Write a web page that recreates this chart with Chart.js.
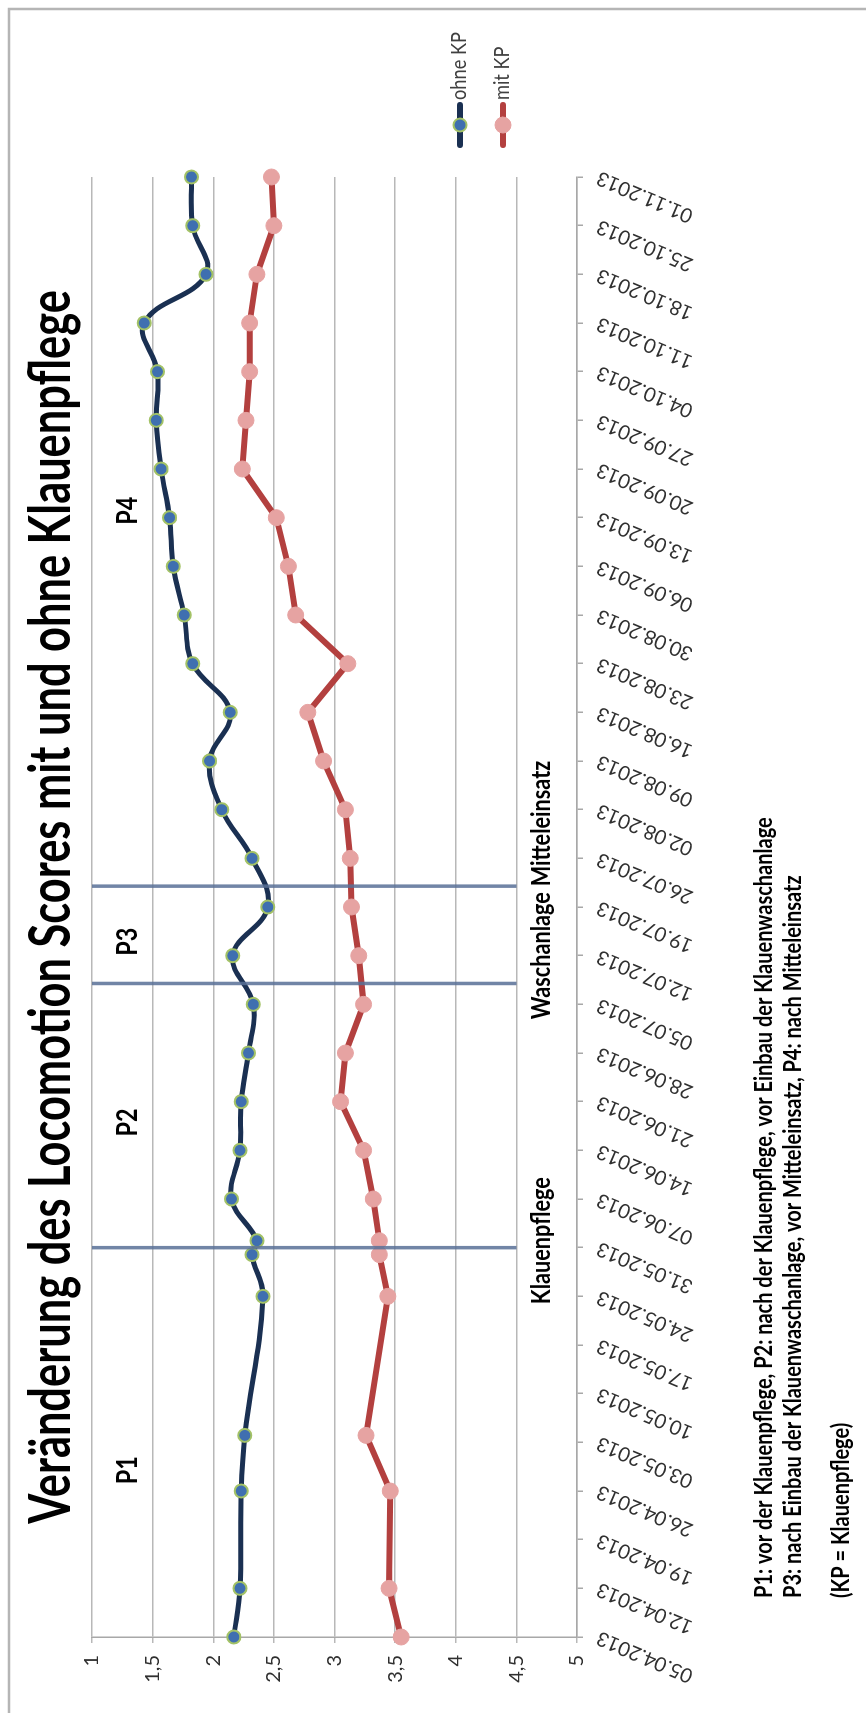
<!DOCTYPE html>
<html lang="de">

<head>
    <meta charset="UTF-8">
    <title>Locomotion Scores</title>
    <script src="https://cdn.jsdelivr.net/npm/chart.js"></script>
    <style>
        html, body { margin: 0; padding: 0; background: #fff; }
        body { width: 866px; height: 1713px; overflow: hidden; position: relative; }
        /* the chart is drawn landscape and turned a quarter to the left */
        #wrap {
            position: absolute; left: 0; top: 0;
            width: 1713px; height: 866px;
            transform-origin: 0 0;
            transform: translateY(1713px) rotate(-90deg);
        }
    </style>
</head>

<body>
    <div id="wrap"><canvas id="grafik" width="1713" height="866"></canvas></div>

<script>
    // Messtage und Scores
    const daten = ['05.04.2013', '12.04.2013', '26.04.2013', '04.05.2013', '24.05.2013', '30.05.2013',
        '01.06.2013', '07.06.2013', '14.06.2013', '21.06.2013', '28.06.2013', '05.07.2013', '12.07.2013',
        '19.07.2013', '26.07.2013', '02.08.2013', '09.08.2013', '16.08.2013', '23.08.2013', '30.08.2013',
        '06.09.2013', '13.09.2013', '20.09.2013', '27.09.2013', '04.10.2013', '11.10.2013', '18.10.2013',
        '25.10.2013', '01.11.2013'];
    const ohneKP = [2.17, 2.22, 2.23, 2.26, 2.41, 2.32, 2.36, 2.15, 2.22, 2.23, 2.29, 2.33, 2.16, 2.45, 2.32,
        2.07, 1.97, 2.14, 1.83, 1.76, 1.67, 1.64, 1.57, 1.53, 1.54, 1.43, 1.94, 1.83, 1.82];
    const mitKP = [3.55, 3.45, 3.46, 3.26, 3.44, 3.37, 3.37, 3.32, 3.24, 3.05, 3.09, 3.24, 3.20, 3.14, 3.13,
        3.09, 2.91, 2.78, 3.11, 2.68, 2.62, 2.52, 2.24, 2.27, 2.30, 2.30, 2.36, 2.50, 2.48];

    // Wochenachse
    const achsenDaten = ['05.04.2013', '12.04.2013', '19.04.2013', '26.04.2013', '03.05.2013', '10.05.2013',
        '17.05.2013', '24.05.2013', '31.05.2013', '07.06.2013', '14.06.2013', '21.06.2013', '28.06.2013',
        '05.07.2013', '12.07.2013', '19.07.2013', '26.07.2013', '02.08.2013', '09.08.2013', '16.08.2013',
        '23.08.2013', '30.08.2013', '06.09.2013', '13.09.2013', '20.09.2013', '27.09.2013', '04.10.2013',
        '11.10.2013', '18.10.2013', '25.10.2013', '01.11.2013'];
    const scoreTicks = [1, 1.5, 2, 2.5, 3, 3.5, 4, 4.5, 5];

    // Ereignisse (Linie) und ihre Beschriftung
    const ereignisse = ['Klauenpflege', 'Waschanlage', 'Mitteleinsatz'];
    const ereignisDaten = ['31.05.2013', '08.07.2013', '22.07.2013'];
    const ereignisTextDaten = ['01.06.2013', '12.07.2013', '31.07.2013'];

    // Phasen
    const phasen = ['P1', 'P2', 'P3', 'P4'];
    const phasenDaten = ['29.04.2013', '18.06.2013', '14.07.2013', '14.09.2013'];

    const titel = 'Veränderung des Locomotion Scores mit und ohne Klauenpflege';
    const fussnoten = [
        'P1: vor der Klauenpflege, P2: nach der Klauenpflege, vor Einbau der Klauenwaschanlage',
        'P3: nach Einbau der Klauenwaschanlage, vor Mitteleinsatz, P4: nach Mitteleinsatz',
        '(KP = Klauenpflege)'
    ];

    const SCHRIFT = 'Lato, "Open Sans", sans-serif';

    function tag(s) {
        const [d, m, y] = s.split('.').map(Number);
        const [d0, m0, y0] = daten[0].split('.').map(Number);
        return Math.round((Date.UTC(y, m - 1, d) - Date.UTC(y0, m0 - 1, d0)) / 86400000);
    }

    function punkte(werte) {
        return werte.map((v, i) => ({ x: tag(daten[i]), y: v }));
    }

    // font size that makes a text as wide as in the picture
    function passendeGroesse(ctx, text, breite, gewicht) {
        ctx.font = gewicht + ' 100px ' + SCHRIFT;
        return 100 * breite / ctx.measureText(text).width;
    }

    function schreibe(ctx, text, x, y, groesse, gewicht, ausrichtung, streckung, farbe) {
        ctx.save();
        ctx.font = gewicht + ' ' + groesse + 'px ' + SCHRIFT;
        ctx.textAlign = ausrichtung;
        ctx.textBaseline = 'alphabetic';
        ctx.fillStyle = farbe || '#000';
        ctx.translate(x, y);
        ctx.scale(1, streckung);
        ctx.fillText(text, 0, 0);
        ctx.restore();
    }

    const extras = {
        id: 'extras',
        afterDatasetsDraw(chart) {
            const ctx = chart.ctx;
            const xs = chart.scales.x, ys = chart.scales.y;
            ctx.save();
            ctx.strokeStyle = 'rgba(88, 112, 150, 0.85)';
            ctx.lineWidth = 3.5;
            ereignisDaten.forEach(d => {
                const x = xs.getPixelForValue(tag(d));
                ctx.beginPath();
                ctx.moveTo(x, ys.getPixelForValue(1));
                ctx.lineTo(x, ys.getPixelForValue(4.5));
                ctx.stroke();
            });
            ctx.restore();
        },
        afterDraw(chart) {
            const ctx = chart.ctx;
            const xs = chart.scales.x;
            const area = chart.chartArea;

            // Rahmen
            ctx.save();
            ctx.strokeStyle = '#b5b5b5';
            ctx.lineWidth = 2.5;
            ctx.beginPath();
            ctx.moveTo(0, 9);
            ctx.lineTo(1704, 9);
            ctx.lineTo(1704, 866);
            ctx.stroke();
            ctx.restore();

            // Titel
            const tg = passendeGroesse(ctx, titel, 1234, 'bold');
            schreibe(ctx, titel, (area.left + area.right) / 2, 70, tg, 'bold', 'center', 1.3);

            // Phasen
            const pg = passendeGroesse(ctx, 'P1', 28, 'bold');
            phasen.forEach((p, i) => {
                schreibe(ctx, p, xs.getPixelForValue(tag(phasenDaten[i])), 137, pg, 'bold', 'center', 1.25);
            });

            // Ereignisse
            const eg = passendeGroesse(ctx, 'Klauenpflege', 127, 'bold');
            ereignisse.forEach((e, i) => {
                schreibe(ctx, e, xs.getPixelForValue(tag(ereignisTextDaten[i])), 550, eg, 'bold', 'center', 1.25);
            });

            // Fussnoten
            const fg = passendeGroesse(ctx, fussnoten[0], 781, 'bold');
            schreibe(ctx, fussnoten[0], 115, 772, fg, 'bold', 'left', 1.25);
            schreibe(ctx, fussnoten[1], 115, 801, fg, 'bold', 'left', 1.25);
            schreibe(ctx, fussnoten[2], 115, 849, fg, 'bold', 'left', 1.25);

            // Legende
            const lg = passendeGroesse(ctx, 'ohne KP', 68, 'normal');
            chart.data.datasets.forEach((ds, i) => {
                const y = 460 + i * 43;
                ctx.save();
                ctx.strokeStyle = ds.borderColor;
                ctx.lineWidth = 6;
                ctx.lineCap = 'round';
                ctx.beginPath();
                ctx.moveTo(1568, y);
                ctx.lineTo(1608, y);
                ctx.stroke();
                ctx.beginPath();
                ctx.arc(1588, y, ds.pointRadius, 0, Math.PI * 2);
                ctx.fillStyle = ds.pointBackgroundColor;
                ctx.fill();
                ctx.lineWidth = ds.pointBorderWidth;
                ctx.strokeStyle = ds.pointBorderColor;
                ctx.stroke();
                ctx.restore();
                schreibe(ctx, ds.label, 1613, y + 6, lg, 'normal', 'left', 1.15, '#404040');
            });
        }
    };

    new Chart(document.getElementById('grafik'), {
        type: 'line',
        data: {
            datasets: [{
                label: 'ohne KP',
                data: punkte(ohneKP),
                borderColor: '#1a3052',
                borderWidth: 5,
                tension: 0.4,
                clip: false,
                pointRadius: 6.5,
                pointBackgroundColor: '#3f6fb0',
                pointBorderColor: '#a3c266',
                pointBorderWidth: 2
            }, {
                label: 'mit KP',
                data: punkte(mitKP),
                borderColor: '#b3403f',
                borderWidth: 6,
                tension: 0,
                clip: false,
                pointRadius: 8,
                pointBackgroundColor: '#e6a3a2',
                pointBorderColor: '#e6a3a2',
                pointBorderWidth: 1
            }]
        },
        options: {
            responsive: false,
            animation: false,
            devicePixelRatio: 1,
            layout: { padding: { top: 92, right: 177, bottom: 0, left: 0 } },
            plugins: {
                legend: { display: false },
                title: { display: false },
                tooltip: { enabled: false }
            },
            scales: {
                x: {
                    type: 'linear',
                    min: 0,
                    max: tag(achsenDaten[achsenDaten.length - 1]),
                    afterFit: s => { s.height = 289; },
                    border: { color: '#a8a8a8', width: 1.5 },
                    grid: { drawOnChartArea: false, drawTicks: true, tickLength: 6, color: '#a8a8a8', lineWidth: 1.5 },
                    ticks: {
                        stepSize: 7,
                        autoSkip: false,
                        minRotation: 67,
                        maxRotation: 67,
                        padding: 10,
                        color: '#303030',
                        font: { family: SCHRIFT, size: 20 },
                        callback: v => achsenDaten[v / 7] || ''
                    }
                },
                y: {
                    min: scoreTicks[0],
                    max: scoreTicks[scoreTicks.length - 1],
                    reverse: true,
                    afterFit: s => { s.width = 76; },
                    afterBuildTicks: s => { s.ticks = scoreTicks.map(v => ({ value: v })); },
                    border: { color: '#a8a8a8', width: 1.5 },
                    grid: { color: '#b8b8b8', lineWidth: 1.5, tickLength: 6 },
                    ticks: {
                        padding: 12,
                        color: '#303030',
                        font: { family: SCHRIFT, size: 20 },
                        callback: v => String(v).replace('.', ',')
                    }
                }
            }
        },
        plugins: [extras]
    });
</script>
</body>

</html>
